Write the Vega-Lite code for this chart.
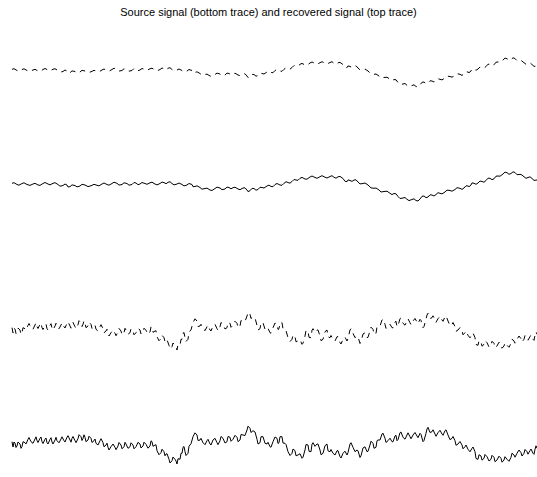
{
  "$schema": "https://vega.github.io/schema/vega-lite/v6.json",
  "width": 537,
  "height": 477,
  "padding": 0,
  "autosize": {"type": "none"},
  "background": "white",
  "config": {"view": {"stroke": null}},
  "title": {
    "text": "Source signal (bottom trace) and recovered signal (top trace)",
    "font": "Liberation Sans",
    "fontSize": 11,
    "fontWeight": "normal",
    "color": "black",
    "anchor": "middle",
    "baseline": "alphabetic",
    "offset": -27
  },
  "datasets": {
    "smooth": [
      {"t":0,"v":0.27},{"t":2,"v":0.33},{"t":5,"v":0.15},{"t":7,"v":0.08},{"t":10,"v":0.25},{"t":12,"v":0.32},{"t":15,"v":0.15},{"t":18,"v":0.06},{"t":21,"v":0.2},{"t":23,"v":0.27},{"t":26,"v":0.1},{"t":28,"v":0.06},{"t":31,"v":0.25},{"t":33,"v":0.35},{"t":36,"v":0.2},{"t":38,"v":0.11},{"t":41,"v":0.27},{"t":43,"v":0.33},{"t":46,"v":0.15},{"t":48,"v":-0.02},{"t":51,"v":0.05},{"t":53,"v":0.2},{"t":55,"v":0.1},{"t":56,"v":-0.1},{"t":58,"v":-0.07},{"t":60,"v":0.11},{"t":63,"v":0.05},{"t":65,"v":-0.09},{"t":68,"v":0},{"t":70,"v":0.17},{"t":73,"v":0.1},{"t":76,"v":-0.06},{"t":79,"v":0.02},{"t":82,"v":0.17},{"t":85,"v":0.07},{"t":87,"v":0.01},{"t":90,"v":0.2},{"t":92,"v":0.3},{"t":95,"v":0.15},{"t":97,"v":0.08},{"t":100,"v":0.25},{"t":102,"v":0.38},{"t":105,"v":0.27},{"t":107,"v":0.09},{"t":110,"v":0.15},{"t":112,"v":0.32},{"t":115,"v":0.25},{"t":117,"v":0.08},{"t":120,"v":0.15},{"t":122,"v":0.35},{"t":124,"v":0.3},{"t":126,"v":0.13},{"t":128,"v":0.2},{"t":130,"v":0.35},{"t":133,"v":0.25},{"t":135,"v":0.17},{"t":138,"v":0.32},{"t":140,"v":0.38},{"t":143,"v":0.2},{"t":145,"v":0.11},{"t":148,"v":0.25},{"t":150,"v":0.4},{"t":153,"v":0.3},{"t":154,"v":0.22},{"t":156,"v":0.37},{"t":158,"v":0.43},{"t":160,"v":0.25},{"t":162,"v":0.11},{"t":165,"v":0.2},{"t":167,"v":0.3},{"t":170,"v":0.15},{"t":172,"v":0.01},{"t":175,"v":0.1},{"t":177,"v":0.25},{"t":180,"v":0.15},{"t":181,"v":-0.07},{"t":183,"v":-0.05},{"t":185,"v":0.02},{"t":188,"v":-0.15},{"t":190,"v":-0.32},{"t":193,"v":-0.25},{"t":195,"v":-0.21},{"t":198,"v":-0.4},{"t":200,"v":-0.45},{"t":203,"v":-0.25},{"t":205,"v":-0.11},{"t":208,"v":-0.2},{"t":210,"v":-0.37},{"t":213,"v":-0.3},{"t":215,"v":-0.11},{"t":217,"v":-0.15},{"t":219,"v":-0.28},{"t":221,"v":-0.17},{"t":223,"v":-0.12},{"t":226,"v":-0.3},{"t":228,"v":-0.37},{"t":231,"v":-0.2},{"t":233,"v":-0.18},{"t":235,"v":-0.4},{"t":236,"v":-0.56},{"t":238,"v":-0.47},{"t":240,"v":-0.24},{"t":242,"v":-0.25},{"t":244,"v":-0.42},{"t":246,"v":-0.35},{"t":248,"v":-0.13},{"t":250,"v":-0.15},{"t":252,"v":-0.2},{"t":255,"v":0},{"t":257,"v":0.09},{"t":259,"v":-0.05},{"t":261,"v":-0.07},{"t":263,"v":0.15},{"t":265,"v":0.25},{"t":268,"v":0.1},{"t":270,"v":0.07},{"t":272,"v":0.27},{"t":274,"v":0.43},{"t":276,"v":0.35},{"t":278,"v":0.28},{"t":280,"v":0.45},{"t":282,"v":0.65},{"t":284,"v":0.6},{"t":286,"v":0.57},{"t":288,"v":0.77},{"t":290,"v":0.86},{"t":293,"v":0.7},{"t":295,"v":0.68},{"t":298,"v":0.9},{"t":300,"v":1.0},{"t":303,"v":0.85},{"t":305,"v":0.77},{"t":308,"v":0.93},{"t":310,"v":1.03},{"t":313,"v":0.88},{"t":315,"v":0.8},{"t":318,"v":0.95},{"t":320,"v":1.03},{"t":322,"v":0.87},{"t":324,"v":0.78},{"t":326,"v":0.92},{"t":328,"v":0.96},{"t":331,"v":0.75},{"t":333,"v":0.47},{"t":335,"v":0.43},{"t":336,"v":0.61},{"t":338,"v":0.55},{"t":340,"v":0.46},{"t":342,"v":0.6},{"t":344,"v":0.62},{"t":346,"v":0.4},{"t":348,"v":0.21},{"t":351,"v":0.25},{"t":353,"v":0.3},{"t":356,"v":0.1},{"t":359,"v":-0.19},{"t":362,"v":-0.23},{"t":364,"v":-0.2},{"t":367,"v":-0.4},{"t":369,"v":-0.6},{"t":372,"v":-0.55},{"t":375,"v":-0.52},{"t":378,"v":-0.73},{"t":380,"v":-0.86},{"t":382,"v":-0.75},{"t":384,"v":-0.78},{"t":386,"v":-1.05},{"t":388,"v":-1.25},{"t":391,"v":-1.2},{"t":393,"v":-1.15},{"t":395,"v":-1.33},{"t":397,"v":-1.46},{"t":400,"v":-1.35},{"t":402,"v":-1.28},{"t":404,"v":-1.45},{"t":406,"v":-1.5},{"t":408,"v":-1.3},{"t":410,"v":-1.03},{"t":412,"v":-1.0},{"t":414,"v":-1.17},{"t":416,"v":-1.1},{"t":418,"v":-0.88},{"t":420,"v":-0.9},{"t":422,"v":-1.0},{"t":424,"v":-0.85},{"t":426,"v":-0.67},{"t":428,"v":-0.73},{"t":430,"v":-0.79},{"t":433,"v":-0.6},{"t":435,"v":-0.41},{"t":438,"v":-0.45},{"t":440,"v":-0.52},{"t":443,"v":-0.35},{"t":445,"v":-0.17},{"t":448,"v":-0.23},{"t":450,"v":-0.34},{"t":452,"v":-0.2},{"t":454,"v":0.02},{"t":456,"v":0},{"t":457,"v":-0.07},{"t":459,"v":0.1},{"t":460,"v":0.31},{"t":462,"v":0.27},{"t":464,"v":0.17},{"t":466,"v":0.3},{"t":468,"v":0.5},{"t":470,"v":0.45},{"t":472,"v":0.38},{"t":474,"v":0.55},{"t":476,"v":0.78},{"t":478,"v":0.77},{"t":480,"v":0.63},{"t":482,"v":0.72},{"t":484,"v":0.98},{"t":486,"v":1.0},{"t":488,"v":0.98},{"t":491,"v":1.2},{"t":493,"v":1.39},{"t":495,"v":1.33},{"t":497,"v":1.17},{"t":499,"v":1.25},{"t":501,"v":1.42},{"t":503,"v":1.35},{"t":505,"v":1.13},{"t":507,"v":1.15},{"t":509,"v":1.16},{"t":512,"v":0.93},{"t":514,"v":0.77},{"t":516,"v":0.85},{"t":518,"v":0.92},{"t":520,"v":0.75},{"t":522,"v":0.56},{"t":525,"v":0.6}
    ],
    "noisy": [
      {"t":0,"v":0.03},{"t":1,"v":-0.5},{"t":2,"v":0.0},{"t":3,"v":-0.1},{"t":4,"v":-0.55},{"t":5,"v":-0.4},{"t":6,"v":0.0},{"t":8,"v":-0.2},{"t":9,"v":-0.63},{"t":10,"v":-0.47},{"t":11,"v":0.03},{"t":13,"v":-0.07},{"t":14,"v":-0.2},{"t":16,"v":0.27},{"t":17,"v":0.45},{"t":19,"v":0.03},{"t":21,"v":-0.13},{"t":23,"v":0.3},{"t":24,"v":0.52},{"t":25,"v":0.13},{"t":26,"v":-0.05},{"t":28,"v":0.37},{"t":29,"v":0.5},{"t":30,"v":0.03},{"t":31,"v":-0.15},{"t":33,"v":0.27},{"t":34,"v":0.4},{"t":35,"v":-0.07},{"t":36,"v":-0.2},{"t":38,"v":0.27},{"t":39,"v":0.43},{"t":40,"v":0},{"t":41,"v":-0.2},{"t":43,"v":0.2},{"t":44,"v":0.47},{"t":45,"v":0.13},{"t":47,"v":-0.08},{"t":49,"v":0.3},{"t":50,"v":0.52},{"t":52,"v":0.13},{"t":53,"v":0},{"t":55,"v":0.47},{"t":56,"v":0.63},{"t":58,"v":0.2},{"t":59,"v":-0.02},{"t":60,"v":0.37},{"t":61,"v":0.55},{"t":63,"v":0.13},{"t":64,"v":-0.07},{"t":66,"v":0.33},{"t":67,"v":0.73},{"t":69,"v":0.53},{"t":70,"v":0.15},{"t":71,"v":0.37},{"t":72,"v":0.72},{"t":73,"v":0.47},{"t":74,"v":0.03},{"t":76,"v":0.2},{"t":77,"v":0.58},{"t":79,"v":0.37},{"t":80,"v":-0.05},{"t":82,"v":0.13},{"t":83,"v":0.3},{"t":84,"v":-0.13},{"t":86,"v":-0.3},{"t":88,"v":0.13},{"t":89,"v":0.33},{"t":91,"v":-0.07},{"t":92,"v":-0.48},{"t":94,"v":-0.3},{"t":95,"v":-0.12},{"t":96,"v":-0.53},{"t":97,"v":-0.8},{"t":99,"v":-0.47},{"t":101,"v":-0.2},{"t":103,"v":-0.53},{"t":104,"v":-0.77},{"t":106,"v":-0.4},{"t":107,"v":-0.05},{"t":109,"v":-0.3},{"t":110,"v":-0.68},{"t":112,"v":-0.47},{"t":113,"v":-0.03},{"t":114,"v":-0.2},{"t":116,"v":-0.63},{"t":118,"v":-0.47},{"t":119,"v":-0.08},{"t":121,"v":-0.3},{"t":122,"v":-0.68},{"t":124,"v":-0.47},{"t":126,"v":-0.03},{"t":128,"v":-0.2},{"t":129,"v":-0.6},{"t":131,"v":-0.4},{"t":132,"v":-0.02},{"t":134,"v":-0.23},{"t":136,"v":-0.62},{"t":138,"v":-0.4},{"t":139,"v":0.12},{"t":140,"v":0.03},{"t":141,"v":-0.43},{"t":143,"v":-0.3},{"t":144,"v":-0.28},{"t":145,"v":-0.87},{"t":147,"v":-1.27},{"t":149,"v":-1.07},{"t":150,"v":-0.72},{"t":152,"v":-0.97},{"t":153,"v":-1.38},{"t":154,"v":-1.2},{"t":155,"v":-1.17},{"t":157,"v":-1.73},{"t":158,"v":-2.1},{"t":160,"v":-1.87},{"t":161,"v":-1.5},{"t":163,"v":-1.73},{"t":164,"v":-1.9},{"t":165,"v":-2.2},{"t":166,"v":-1.67},{"t":168,"v":-1.73},{"t":169,"v":-1.13},{"t":170,"v":-1.13},{"t":171,"v":-0.53},{"t":172,"v":-0.45},{"t":173,"v":-0.97},{"t":174,"v":-1.35},{"t":176,"v":-1.13},{"t":177,"v":-0.42},{"t":178,"v":-0.3},{"t":179,"v":-0.18},{"t":181,"v":0.53},{"t":183,"v":0.92},{"t":185,"v":0.7},{"t":186,"v":0.15},{"t":188,"v":0.2},{"t":189,"v":0.37},{"t":191,"v":-0.07},{"t":193,"v":-0.27},{"t":195,"v":0.13},{"t":196,"v":0.27},{"t":198,"v":-0.2},{"t":199,"v":-0.3},{"t":201,"v":0.2},{"t":203,"v":0.37},{"t":205,"v":-0.07},{"t":206,"v":-0.27},{"t":208,"v":0.13},{"t":209,"v":0.55},{"t":211,"v":0.37},{"t":213,"v":-0.1},{"t":215,"v":0.03},{"t":216,"v":0.55},{"t":218,"v":0.47},{"t":219,"v":0.07},{"t":221,"v":0.27},{"t":223,"v":0.67},{"t":225,"v":0.47},{"t":226,"v":0.03},{"t":228,"v":0.2},{"t":229,"v":0.75},{"t":231,"v":0.7},{"t":233,"v":0.65},{"t":235,"v":1.2},{"t":236,"v":1.58},{"t":238,"v":1.37},{"t":239,"v":0.95},{"t":241,"v":1.13},{"t":243,"v":1.0},{"t":245,"v":0.27},{"t":246,"v":-0.2},{"t":248,"v":-0.07},{"t":249,"v":0.53},{"t":251,"v":0.53},{"t":253,"v":-0.13},{"t":255,"v":-0.2},{"t":256,"v":-0.03},{"t":258,"v":-0.47},{"t":259,"v":-0.52},{"t":261,"v":0.03},{"t":263,"v":0.5},{"t":265,"v":0.37},{"t":266,"v":-0.15},{"t":267,"v":-0.07},{"t":268,"v":0.53},{"t":270,"v":0.53},{"t":271,"v":-0.1},{"t":273,"v":-0.13},{"t":274,"v":-0.25},{"t":276,"v":-0.97},{"t":278,"v":-1.35},{"t":280,"v":-1.13},{"t":281,"v":-0.7},{"t":283,"v":-0.87},{"t":284,"v":-1.38},{"t":286,"v":-1.3},{"t":288,"v":-1.17},{"t":290,"v":-1.63},{"t":291,"v":-1.52},{"t":293,"v":-0.8},{"t":294,"v":-0.25},{"t":296,"v":-0.3},{"t":297,"v":-0.93},{"t":299,"v":-0.97},{"t":300,"v":-0.22},{"t":301,"v":-0.07},{"t":303,"v":-0.43},{"t":305,"v":-0.2},{"t":306,"v":-0.2},{"t":308,"v":-0.8},{"t":309,"v":-1.27},{"t":311,"v":-1.13},{"t":313,"v":-0.37},{"t":315,"v":-0.2},{"t":316,"v":-0.88},{"t":318,"v":-0.97},{"t":319,"v":-0.75},{"t":321,"v":-1.13},{"t":323,"v":-1.3},{"t":325,"v":-0.87},{"t":326,"v":-0.87},{"t":328,"v":-1.47},{"t":329,"v":-1.6},{"t":331,"v":-1.13},{"t":333,"v":-0.92},{"t":335,"v":-1.3},{"t":336,"v":-1.05},{"t":338,"v":-0.2},{"t":339,"v":-0.07},{"t":341,"v":-0.53},{"t":343,"v":-0.97},{"t":345,"v":-0.8},{"t":346,"v":-0.88},{"t":348,"v":-1.55},{"t":349,"v":-1.38},{"t":351,"v":-0.6},{"t":353,"v":-0.48},{"t":355,"v":-0.97},{"t":356,"v":-0.93},{"t":358,"v":-0.3},{"t":359,"v":0.08},{"t":361,"v":-0.13},{"t":362,"v":-0.63},{"t":364,"v":-0.53},{"t":365,"v":0.13},{"t":366,"v":0.2},{"t":368,"v":0.2},{"t":370,"v":0.8},{"t":371,"v":0.88},{"t":373,"v":0.37},{"t":374,"v":-0.05},{"t":376,"v":0.13},{"t":378,"v":0.38},{"t":380,"v":0.03},{"t":381,"v":0.02},{"t":383,"v":0.6},{"t":384,"v":0.67},{"t":385,"v":0.13},{"t":386,"v":0.23},{"t":388,"v":0.93},{"t":389,"v":1.0},{"t":391,"v":0.47},{"t":393,"v":0.28},{"t":395,"v":0.7},{"t":396,"v":0.92},{"t":398,"v":0.53},{"t":399,"v":0.32},{"t":401,"v":0.7},{"t":403,"v":0.95},{"t":405,"v":0.6},{"t":406,"v":0.43},{"t":408,"v":0.87},{"t":409,"v":0.75},{"t":411,"v":0.03},{"t":412,"v":0.15},{"t":414,"v":0.87},{"t":415,"v":1.3},{"t":416,"v":1.47},{"t":418,"v":0.95},{"t":420,"v":1.03},{"t":421,"v":1.22},{"t":423,"v":0.8},{"t":424,"v":0.57},{"t":426,"v":0.93},{"t":428,"v":1.17},{"t":430,"v":0.8},{"t":431,"v":0.67},{"t":433,"v":1.13},{"t":434,"v":1.22},{"t":436,"v":0.7},{"t":438,"v":0.23},{"t":440,"v":0.37},{"t":441,"v":0.55},{"t":443,"v":0.13},{"t":444,"v":-0.33},{"t":446,"v":-0.2},{"t":448,"v":0.05},{"t":450,"v":-0.3},{"t":451,"v":-0.68},{"t":453,"v":-0.47},{"t":454,"v":-0.3},{"t":456,"v":-0.73},{"t":458,"v":-0.98},{"t":460,"v":-0.63},{"t":461,"v":-0.5},{"t":463,"v":-0.97},{"t":464,"v":-1.65},{"t":466,"v":-1.73},{"t":467,"v":-1.27},{"t":469,"v":-1.4},{"t":470,"v":-1.82},{"t":472,"v":-1.63},{"t":473,"v":-1.25},{"t":475,"v":-1.47},{"t":477,"v":-1.9},{"t":479,"v":-1.73},{"t":480,"v":-1.33},{"t":482,"v":-1.53},{"t":483,"v":-1.97},{"t":485,"v":-1.8},{"t":487,"v":-1.42},{"t":489,"v":-1.63},{"t":490,"v":-2.02},{"t":492,"v":-1.8},{"t":493,"v":-1.47},{"t":495,"v":-1.73},{"t":497,"v":-1.93},{"t":499,"v":-1.53},{"t":500,"v":-1.12},{"t":502,"v":-1.3},{"t":503,"v":-1.52},{"t":505,"v":-1.13},{"t":507,"v":-0.8},{"t":509,"v":-1.07},{"t":510,"v":-1.4},{"t":512,"v":-1.13},{"t":513,"v":-0.75},{"t":515,"v":-0.97},{"t":516,"v":-1.22},{"t":518,"v":-0.87},{"t":519,"v":-0.7},{"t":521,"v":-1.13},{"t":522,"v":-1.23},{"t":523,"v":-0.73},{"t":524,"v":-0.38},{"t":525,"v":-0.63}
    ]
  },
  "resolve": {"scale": {"y": "independent"}},
  "layer": [
    {
      "data": {"name": "smooth"},
      "mark": {"type": "line", "color": "black", "strokeWidth": 1, "strokeDash": [6, 5], "clip": true},
      "encoding": {
        "x": {"field": "t", "type": "quantitative", "scale": {"domain": [-12, 525], "nice": false, "zero": false}, "axis": null},
        "y": {"field": "v", "type": "quantitative", "scale": {"domain": [-40.5, 7.2], "nice": false, "zero": false}, "axis": null}
      }
    },
    {
      "data": {"name": "smooth"},
      "mark": {"type": "line", "color": "black", "strokeWidth": 1, "clip": true},
      "encoding": {
        "x": {"field": "t", "type": "quantitative", "scale": {"domain": [-12, 525], "nice": false, "zero": false}, "axis": null},
        "y": {"field": "v", "type": "quantitative", "scale": {"domain": [-29.1, 18.6], "nice": false, "zero": false}, "axis": null}
      }
    },
    {
      "data": {"name": "noisy"},
      "mark": {"type": "line", "color": "black", "strokeWidth": 1, "strokeDash": [6, 5], "clip": true},
      "encoding": {
        "x": {"field": "t", "type": "quantitative", "scale": {"domain": [-12, 525], "nice": false, "zero": false}, "axis": null},
        "y": {"field": "v", "type": "quantitative", "scale": {"domain": [-14.9, 32.8], "nice": false, "zero": false}, "axis": null}
      }
    },
    {
      "data": {"name": "noisy"},
      "mark": {"type": "line", "color": "black", "strokeWidth": 1, "clip": true},
      "encoding": {
        "x": {"field": "t", "type": "quantitative", "scale": {"domain": [-12, 525], "nice": false, "zero": false}, "axis": null},
        "y": {"field": "v", "type": "quantitative", "scale": {"domain": [-3.5, 44.2], "nice": false, "zero": false}, "axis": null}
      }
    }
  ]
}
